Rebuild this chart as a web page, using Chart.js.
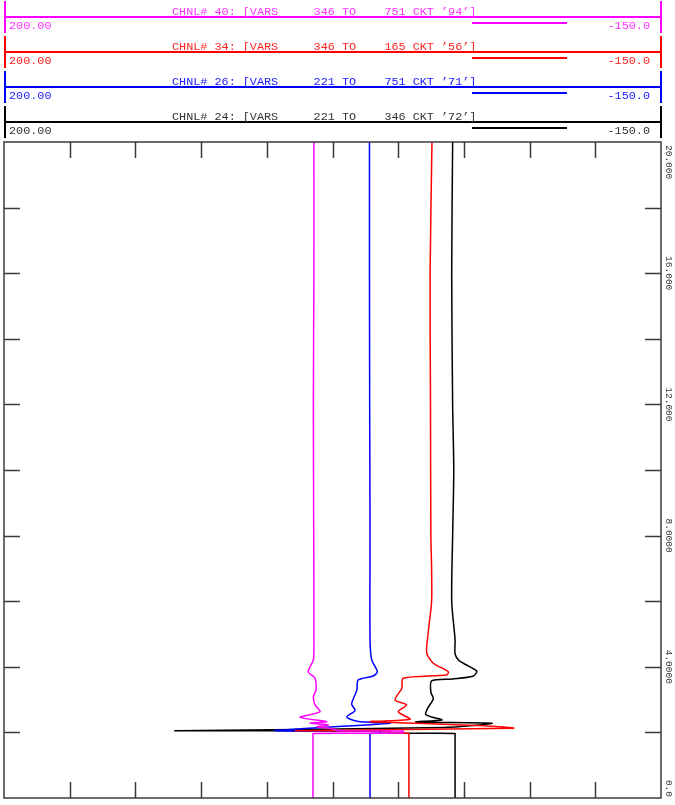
<!DOCTYPE html>
<html lang="en">
<head>
  <meta charset="UTF-8">
  <title>CHNL VARS plot</title>
  <script src="https://cdn.jsdelivr.net/npm/chart.js"></script>
  <style>
    html, body { margin: 0; padding: 0; background: #fff; }
    #wrap { position: relative; width: 675px; height: 805px; overflow: hidden; }
    #plot { position: absolute; left: 0; top: 0; }
    .band { position: absolute; left: 0; width: 675px; height: 35px;
            font-family: 'Liberation Mono', monospace; font-size: 11.8px; line-height: 12px; white-space: pre; }
    .band div { position: absolute; }
    .edge { width: 1.5px; top: 1px; height: 32px; }
    .rule { left: 4px; width: 658px; top: 16px; height: 1.5px; }
    .title { left: 172px; top: 5.5px; }
    .lo { left: 9px; top: 19.5px; }
    .hi { right: 25px; top: 19.5px; }
    .key { left: 472px; width: 95px; top: 22px; height: 1.5px; }
  </style>
</head>
<body>
<div id="wrap">
  <canvas id="plot" width="675" height="805"></canvas>
</div>

<script>
  // channels, top band first
  const channelTitles = [
    "CHNL# 40: [VARS     346 TO    751 CKT \u201994\u2019]",
    "CHNL# 34: [VARS     346 TO    165 CKT \u201956\u2019]",
    "CHNL# 26: [VARS     221 TO    751 CKT \u201971\u2019]",
    "CHNL# 24: [VARS     221 TO    346 CKT \u201972\u2019]"
  ];
  const channelColors = ['#ff00ff', '#ff0000', '#0000ff', '#000000'];
  const textColors = ['#ff33ff', '#ff2020', '#2020ff', '#333333'];

  // value axis (horizontal, reversed) and time axis (vertical)
  const valueLeft = 200;
  const valueRight = -150;
  const valueLeftLabel = "200.00";
  const valueRightLabel = "-150.0";
  const xTickValues = [165, 130, 95, 60, 25, -10, -45, -80, -115];
  const yTickValues = [2, 4, 6, 8, 10, 12, 14, 16, 18];
  const yLabelValues = [0, 4, 8, 12, 16, 20];
  const yLabels = ["0.0", "4.0000", "8.0000", "12.000", "16.000", "20.000"];

  // CHNL 40
  const t40 = [0, 1.95, 1.97, 1.98, 2.04, 2.05, 2.13, 2.17, 2.23, 2.28, 2.33, 2.46, 2.63, 2.84, 3.09, 3.29, 3.65, 3.85, 4.21, 4.82, 8, 12, 16, 20];
  const v40 = [35.4, 35.4, 35.4, -12.6, -12.6, 21.0, 26.6, 33.4, 27.2, 37.0, 28.1, 42.3, 31.7, 34.3, 35.2, 33.8, 34.3, 37.9, 35.2, 34.9, 35.0, 35.2, 34.9, 34.9];
  // CHNL 34
  const t34 = [0, 1.95, 1.97, 1.98, 2.04, 2.05, 2.13, 2.2, 2.28, 2.33, 2.40, 2.63, 2.84, 2.99, 3.34, 3.65, 3.75, 3.85, 4.11, 4.42, 5, 6, 7, 8, 12, 16, 20];
  const v34 = [-15.7, -15.7, -15.7, -5.6, -5.6, 44.4, -71.2, -55.0, -20.0, 5.0, -16.3, -10.0, -14.5, -8.3, -11.9, -12.7, -35.8, -36.7, -28.7, -25.2, -25.9, -27.8, -27.8, -27.4, -27.2, -27.0, -28.0];
  // CHNL 26
  const t26 = [0, 1.95, 1.97, 1.98, 2.04, 2.05, 2.10, 2.28, 2.31, 2.34, 2.47, 2.67, 2.87, 3.29, 3.60, 3.72, 3.85, 4.21, 4.82, 8, 12, 16, 20];
  const v26 = [5.0, 5.0, 5.0, -0.3, -0.3, 55.6, 44.6, -5.6, 5.0, 12.0, 17.4, 13.0, 14.8, 12.0, 11.3, 3.3, 1.1, 4.1, 5.0, 5.0, 5.2, 5.3, 5.3];
  // CHNL 24
  const t24 = [0, 1.95, 1.97, 1.98, 2.04, 2.05, 2.15, 2.28, 2.32, 2.38, 2.47, 2.55, 2.76, 3.02, 3.23, 3.57, 3.63, 3.71, 3.87, 4.18, 4.39, 4.82, 6, 8, 10, 12, 16, 20];
  const v24 = [-40.3, -40.3, -40.3, -0.3, -0.3, 108.9, -34.0, -60.0, -19.5, -33.3, -27.8, -24.6, -25.9, -28.7, -27.4, -27.8, -38.9, -49.8, -51.8, -42.6, -40.3, -40.3, -38.5, -39.0, -39.6, -39.0, -38.5, -39.0];

  const times = [t40, t34, t26, t24];
  const values = [v40, v34, v26, v24];

  // header bands
  const wrap = document.getElementById('wrap');
  channelTitles.forEach((title, i) => {
    const band = document.createElement('div');
    band.className = 'band';
    band.style.top = (35 * i) + 'px';
    const c = channelColors[i];
    band.innerHTML =
      `<div class="edge" style="left:4px;background:${c}"></div>` +
      `<div class="edge" style="left:660px;background:${c}"></div>` +
      `<div class="rule" style="background:${c}"></div>` +
      `<div class="title" style="color:${textColors[i]}">${title}</div>` +
      `<div class="lo" style="color:${textColors[i]}">${valueLeftLabel}</div>` +
      `<div class="hi" style="color:${textColors[i]}">${valueRightLabel}</div>` +
      `<div class="key" style="background:${c}"></div>`;
    wrap.appendChild(band);
  });

  // frame, inner ticks and rotated time labels
  const framePlugin = {
    id: 'frame',
    afterDraw(chart) {
      const { ctx, chartArea: a, scales: { x, y } } = chart;
      ctx.save();
      ctx.strokeStyle = '#3a3a3a';
      ctx.lineWidth = 1.5;
      ctx.strokeRect(a.left, a.top, a.right - a.left, a.bottom - a.top);
      ctx.beginPath();
      xTickValues.forEach(v => {
        const px = Math.round(x.getPixelForValue(v)) + 0.5;
        ctx.moveTo(px, a.top); ctx.lineTo(px, a.top + 16);
        ctx.moveTo(px, a.bottom); ctx.lineTo(px, a.bottom - 16);
      });
      yTickValues.forEach(v => {
        const py = Math.round(y.getPixelForValue(v)) + 0.5;
        ctx.moveTo(a.left, py); ctx.lineTo(a.left + 16, py);
        ctx.moveTo(a.right, py); ctx.lineTo(a.right - 16, py);
      });
      ctx.stroke();

      ctx.font = '9.5px "Liberation Mono", monospace';
      ctx.fillStyle = '#333';
      ctx.textAlign = 'center';
      ctx.textBaseline = 'middle';
      yLabelValues.forEach((v, i) => {
        const w = ctx.measureText(yLabels[i]).width;
        let c = y.getPixelForValue(v);
        c = Math.max(a.top + 3 + w / 2, Math.min(a.bottom - 1 - w / 2, c));
        ctx.save();
        ctx.translate(669, c);
        ctx.rotate(Math.PI / 2);
        ctx.fillText(yLabels[i], 0, 0);
        ctx.restore();
      });
      ctx.restore();
    }
  };

  const datasets = times.map((ts, i) => ({
    label: channelTitles[i],
    data: ts.map((t, k) => ({ x: values[i][k], y: t })),
    showLine: true,
    borderColor: channelColors[i],
    backgroundColor: channelColors[i],
    borderWidth: 1.5,
    pointRadius: 0,
    tension: 0.25
  }));

  new Chart(document.getElementById('plot'), {
    type: 'scatter',
    data: { datasets },
    options: {
      responsive: false,
      animation: false,
      devicePixelRatio: 1,
      layout: { padding: { left: 4, right: 14, top: 142, bottom: 7 } },
      scales: {
        x: { type: 'linear', min: valueRight, max: valueLeft, reverse: true, display: false },
        y: { type: 'linear', min: 0, max: 20, display: false }
      },
      plugins: { legend: { display: false }, tooltip: { enabled: false } }
    },
    plugins: [framePlugin]
  });
</script>
</body>
</html>
